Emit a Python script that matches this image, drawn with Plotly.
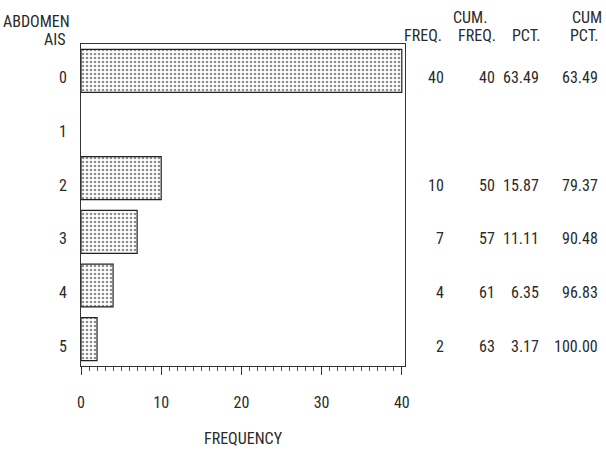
import plotly.graph_objects as go

# Frequency table for abdomen AIS
ais = ["0", "1", "2", "3", "4", "5"]
freq = [40, 0, 10, 7, 4, 2]
freq_txt = ["40", "", "10", "7", "4", "2"]
cum_freq_txt = ["40", "", "50", "57", "61", "63"]
pct_txt = ["63.49", "", "15.87", "11.11", "6.35", "3.17"]
cum_pct_txt = ["63.49", "", "79.37", "90.48", "96.83", "100.00"]
x_ticks = [0, 10, 20, 30, 40]

W, H = 606, 450
L, R, T, B = 81, 201, 44, 84
PW, PH = W - L - R, H - T - B

FONT = "Roboto Condensed, Noto Sans Condensed, Liberation Sans, Arial, sans-serif"
INK = "#2a2a2a"
FS = 16


def px(xp):
    return (xp - L) / PW


def py(yp):
    return (H - B - yp) / PH


fig = go.Figure()
fig.add_trace(go.Bar(
    y=ais, x=freq, orientation="h", width=0.8,
    marker=dict(
        color="white",
        line=dict(color="#222222", width=[1.2 if f > 0 else 0 for f in freq]),
        pattern=dict(shape=".", size=4, solidity=0.35,
                     fgcolor="#222222", bgcolor="white"),
    ),
    showlegend=False, hoverinfo="skip",
))

ann = []


def text(s, xp, yp, anchor="right", size=FS):
    ann.append(dict(text=s, x=px(xp), y=py(yp), xref="paper", yref="paper",
                    xanchor=anchor, yanchor="middle", showarrow=False,
                    font=dict(family=FONT, size=size, color=INK)))


# header block
text("ABDOMEN", 72, 21)
text("AIS", 68, 40)
text("FREQ.", 444, 36)
text("CUM.", 489, 18)
text("FREQ.", 498, 36)
text("PCT.", 543, 36)
text("CUM", 604, 18)
text("PCT.", 601, 36)

# table rows, aligned with the bars
columns = [(freq_txt, 446), (cum_freq_txt, 497), (pct_txt, 541), (cum_pct_txt, 600)]
for vals, right in columns:
    for i, v in enumerate(vals):
        if v:
            ann.append(dict(text=v, x=px(right), y=ais[i], xref="paper", yref="y",
                            xanchor="right", yanchor="middle", yshift=-7,
                            showarrow=False,
                            font=dict(family=FONT, size=FS, color=INK)))

fig.update_layout(
    width=W, height=H,
    margin=dict(l=L, r=R, t=T, b=B),
    paper_bgcolor="white", plot_bgcolor="white",
    font=dict(family=FONT, size=FS, color=INK),
    annotations=ann,
    xaxis=dict(
        range=[0, 40.4], tickvals=x_ticks, ticks="outside", ticklen=8,
        tickcolor="#333333", tickwidth=1,
        minor=dict(dtick=1, ticks="outside", ticklen=4, tickcolor="#555555", tickwidth=1),
        showgrid=False, zeroline=False, automargin=False,
        showline=True, linecolor="#333333", linewidth=1, mirror=True,
        ticklabelstandoff=14,
        title=dict(text="FREQUENCY", standoff=21, font=dict(family=FONT, size=FS, color=INK)),
    ),
    yaxis=dict(
        type="category", categoryorder="array", categoryarray=ais,
        range=[5.5, -0.5], ticks="", showgrid=False, zeroline=False, automargin=False,
        showline=True, linecolor="#333333", linewidth=1, mirror=True,
        ticklabelstandoff=10, ticklabelshift=-7,
    ),
)

fig.write_html("out.html")
